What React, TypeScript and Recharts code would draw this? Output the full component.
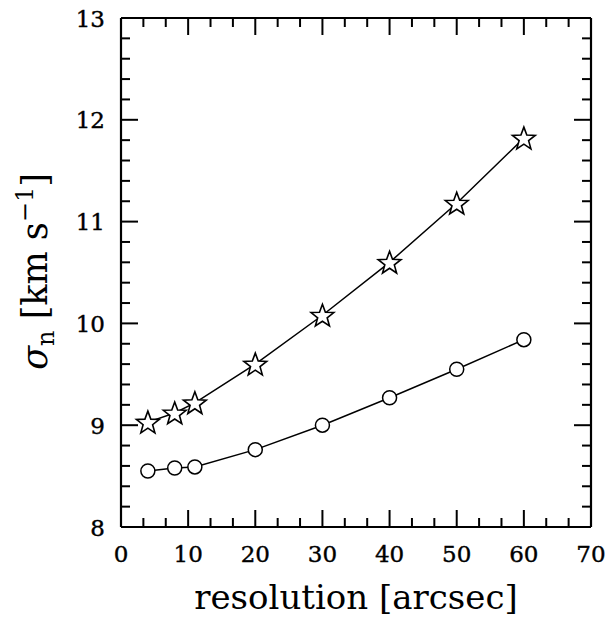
import React from "react";
import { LineChart, Line, XAxis, YAxis, Label, ReferenceLine } from "recharts";

const resolution = [4, 8, 11, 20, 30, 40, 50, 60];
const sigmaStars = [9.03, 9.12, 9.22, 9.6, 10.08, 10.6, 11.18, 11.82];
const sigmaCircles = [8.55, 8.58, 8.59, 8.76, 9.0, 9.27, 9.55, 9.84];

const xMajorTicks = [0, 10, 20, 30, 40, 50, 60, 70];
const yMajorTicks = [8, 9, 10, 11, 12, 13];

const xTicks: number[] = [];
for (let i = 0; i <= 21; i++) xTicks.push(Math.round(((i * 10) / 3) * 1000) / 1000);
const yTicks: number[] = [];
for (let i = 0; i <= 25; i++) yTicks.push(Math.round((8 + i * 0.2) * 1000) / 1000);

const data = resolution.map((r, i) => ({ r, star: sigmaStars[i], circ: sigmaCircles[i] }));

const FONT = "'DejaVu Serif', serif";
const TICK_FS = 23;
const X0 = 0, X1 = 70, Y0 = 8, Y1 = 13;
const PLOT_W = 470, PLOT_H = 509;
const xLenMaj = (17 / PLOT_W) * (X1 - X0);
const xLenMin = (9 / PLOT_W) * (X1 - X0);
const yLenMaj = (17 / PLOT_H) * (Y1 - Y0);
const yLenMin = (9 / PLOT_H) * (Y1 - Y0);

const isMajor = (v: number, majors: number[]) => majors.some((m) => Math.abs(m - v) < 1e-6);

const bottomTick = (p: any) => {
  const v = p.payload.value;
  if (!isMajor(v, xMajorTicks)) return <g key={"b" + p.index} />;
  return (
    <text key={"b" + p.index} x={p.x} y={p.y + 35} textAnchor="middle" fontFamily={FONT} fontSize={TICK_FS} fill="#000" stroke="#000" strokeWidth={0.4}>
      {Math.round(v)}
    </text>
  );
};
const leftTick = (p: any) => {
  const v = p.payload.value;
  if (!isMajor(v, yMajorTicks)) return <g key={"l" + p.index} />;
  return (
    <text key={"l" + p.index} x={p.x - 16} y={p.y + 8.5} textAnchor="end" fontFamily={FONT} fontSize={TICK_FS} fill="#000" stroke="#000" strokeWidth={0.4}>
      {Math.round(v)}
    </text>
  );
};

const starPath = (cx: number, cy: number, ro: number, ri: number) => {
  let d = "";
  for (let i = 0; i < 10; i++) {
    const r = i % 2 === 0 ? ro : ri;
    const a = -Math.PI / 2 + (i * Math.PI) / 5;
    d += (i === 0 ? "M" : "L") + (cx + r * Math.cos(a)).toFixed(2) + "," + (cy + r * Math.sin(a)).toFixed(2);
  }
  return d + "Z";
};

const StarDot = (p: any) => (
  <path key={"s" + p.index} d={starPath(p.cx, p.cy + 1, 12, 5)} fill="#fff" stroke="#000" strokeWidth={1.6} />
);
const CircleDot = (p: any) => (
  <circle key={"c" + p.index} cx={p.cx} cy={p.cy} r={7} fill="#fff" stroke="#000" strokeWidth={1.5} />
);

const XLabel = (p: any) => {
  const vb = p.viewBox;
  return (
    <text x={vb.x + vb.width / 2} y={vb.y + 82} textAnchor="middle" fontFamily={FONT} fontSize={34} fill="#000">
      resolution [arcsec]
    </text>
  );
};
const YLabel = (p: any) => {
  const vb = p.viewBox;
  const cx = vb.x + vb.width - 74;
  const cy = vb.y + vb.height / 2 - 1;
  return (
    <text x={cx} y={cy} transform={`rotate(-90 ${cx} ${cy})`} textAnchor="middle" fontFamily={FONT} fontSize={35} fill="#000">
      <tspan fontStyle="italic">σ</tspan>
      <tspan fontSize={24} dy={7}>n</tspan>
      <tspan dy={-7}> [km s</tspan>
      <tspan fontSize={24} dy={-14}>−1</tspan>
      <tspan dy={14}>]</tspan>
    </text>
  );
};

const seg = (key: string, a: [number, number], b: [number, number], w: number) => (
  <ReferenceLine key={key} xAxisId="b" yAxisId="l" ifOverflow="visible" stroke="#000000" strokeWidth={w}
    segment={[{ x: a[0], y: a[1] }, { x: b[0], y: b[1] }]} />
);

const frameAndTicks = () => {
  const out: any[] = [];
  out.push(seg("ft", [X0, Y1], [X1, Y1], 2.2));
  out.push(seg("fr", [X1, Y0], [X1, Y1], 2.2));
  xTicks.forEach((t, i) => {
    const L = isMajor(t, xMajorTicks) ? yLenMaj : yLenMin;
    out.push(seg("xb" + i, [t, Y0], [t, Y0 + L], 2));
    out.push(seg("xt" + i, [t, Y1], [t, Y1 - L], 2));
  });
  yTicks.forEach((t, i) => {
    const L = isMajor(t, yMajorTicks) ? xLenMaj : xLenMin;
    out.push(seg("yl" + i, [X0, t], [X0 + L, t], 2));
    out.push(seg("yr" + i, [X1, t], [X1 - L, t], 2));
  });
  return out;
};

export default function App() {
  return (
    <div style={{ width: 613, height: 618, margin: "-8px 0 0 -8px" }}>
      <LineChart width={613} height={618} data={data} margin={{ top: 18, right: 22, bottom: 51, left: 61 }}>
        <XAxis xAxisId="b" dataKey="r" type="number" domain={[X0, X1]} ticks={xTicks} interval={0} tickSize={0} tickMargin={0} tick={bottomTick} height={40} axisLine={{ stroke: "#000", strokeWidth: 2.2 }} tickLine={false}>
          <Label content={<XLabel />} />
        </XAxis>
        <YAxis yAxisId="l" type="number" domain={[Y0, Y1]} ticks={yTicks} interval={0} tickSize={0} tickMargin={0} tick={leftTick} width={60} axisLine={{ stroke: "#000", strokeWidth: 2.2 }} tickLine={false}>
          <Label content={<YLabel />} />
        </YAxis>
        {frameAndTicks()}
        <Line xAxisId="b" yAxisId="l" dataKey="circ" stroke="#000" strokeWidth={1.5} dot={<CircleDot />} isAnimationActive={false} />
        <Line xAxisId="b" yAxisId="l" dataKey="star" stroke="#000" strokeWidth={1.5} dot={<StarDot />} isAnimationActive={false} />
      </LineChart>
    </div>
  );
}
